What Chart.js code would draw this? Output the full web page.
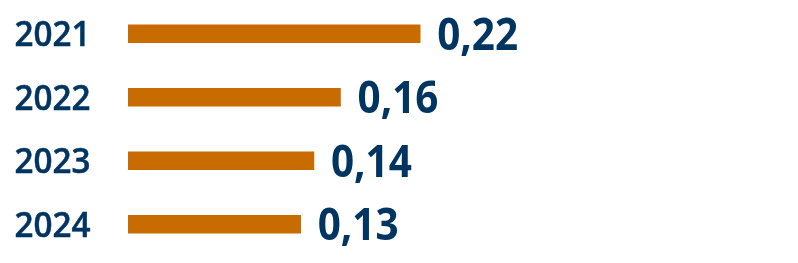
<!DOCTYPE html>
<html>
<head>
<meta charset="utf-8">
<script src="https://cdn.jsdelivr.net/npm/chart.js@4"></script>
<style>
  body { margin: 0; background: #fff; }
  #wrap { width: 798px; height: 263px; position: relative; }
</style>
</head>
<body>
<div id="wrap"><canvas id="chart"></canvas></div>
<script>
const years = ["2021", "2022", "2023", "2024"];
const values = [0.22, 0.16, 0.14, 0.13];

const barColor = "#C86B00";
const textColor = "#003562";

// Draws year labels on the left and the value labels after each bar
const labelPlugin = {
  id: "labels",
  afterDatasetsDraw(chart) {
    const ctx = chart.ctx;
    const bars = chart.getDatasetMeta(0).data;
    ctx.save();
    ctx.fillStyle = textColor;
    ctx.strokeStyle = textColor;
    ctx.textBaseline = "alphabetic";
    bars.forEach((bar, i) => {
      // year label (regular + thin stroke to get a semibold look)
      ctx.save();
      ctx.font = "600 35px 'Open Sans'";
      ctx.translate(14.5, bar.y + 12.5);
      ctx.scale(0.95, 1);
      ctx.lineWidth = 0.5;
      ctx.fillText(years[i], 0, 0);
      ctx.strokeText(years[i], 0, 0);
      ctx.restore();

      // value label
      ctx.save();
      ctx.font = "bold 44px 'Open Sans'";
      ctx.translate(bar.x + 17, bar.y + 16);
      ctx.scale(0.92, 1);
      ctx.fillText(values[i].toFixed(2).replace(".", ","), 0, 0);
      ctx.restore();
    });
    ctx.restore();
  },
};

new Chart(document.getElementById("chart"), {
  type: "bar",
  data: {
    labels: years,
    datasets: [
      {
        data: values,
        backgroundColor: barColor,
        barThickness: 18,
        borderWidth: 0,
      },
    ],
  },
  options: {
    indexAxis: "y",
    responsive: true,
    maintainAspectRatio: false,
    animation: false,
    layout: { padding: { left: 128, right: 6, top: 2, bottom: 7 } },
    plugins: { legend: { display: false }, tooltip: { enabled: false } },
    scales: {
      x: { display: false, min: 0, max: 0.5 },
      y: { display: false },
    },
  },
  plugins: [labelPlugin],
});
</script>
</body>
</html>
